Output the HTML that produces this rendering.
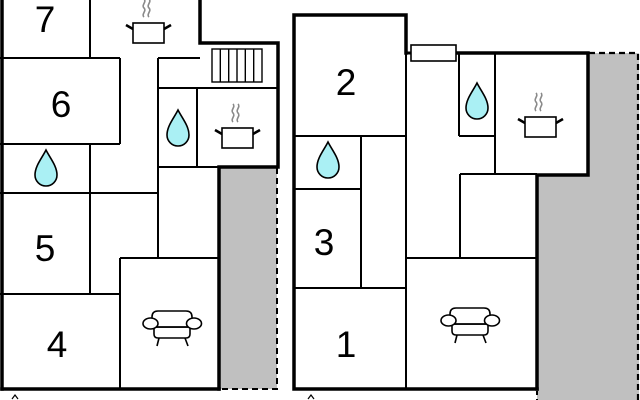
<!DOCTYPE html>
<html>
<head>
<meta charset="utf-8">
<style>
html,body{margin:0;padding:0;background:#fff;}
svg{display:block;}
text{font-family:"Liberation Sans",Arial,sans-serif;font-size:37px;fill:#000;}
</style>
</head>
<body>
<svg width="640" height="400" viewBox="0 0 640 400" xmlns="http://www.w3.org/2000/svg">
<defs>
  <g id="drop">
    <path d="M0,-18 C4,-10 11,-2 11,7 A11,11 0 0 1 -11,7 C-11,-2 -4,-10 0,-18 Z" fill="#aaf0f4" stroke="#000" stroke-width="1.6"/>
  </g>
  <g id="pot">
    <path d="M11,-6 c-3,-3 3,-6 0,-9 c-3,-3 3,-6 0,-9" fill="none" stroke="#8a8a8a" stroke-width="1.6"/>
    <path d="M16,-6 c-3,-3 3,-6 0,-9 c-3,-3 3,-6 0,-9" fill="none" stroke="#8a8a8a" stroke-width="1.6"/>
    <line x1="0" y1="6" x2="-7" y2="2" stroke="#000" stroke-width="2.6"/>
    <line x1="31" y1="6" x2="38" y2="2" stroke="#000" stroke-width="2.6"/>
    <rect x="0" y="0" width="31" height="20" fill="#fff" stroke="#000" stroke-width="1.6"/>
  </g>
  <g id="sofa" fill="#fff" stroke="#000" stroke-width="1.6">
    <line x1="159" y1="338" x2="157" y2="346"/>
    <line x1="185" y1="338" x2="188" y2="346"/>
    <path d="M154,327 L190,327 L190,334 Q190,338 186,338 L158,338 Q154,338 154,334 Z"/>
    <path d="M152,327 L152,317 Q152,311 158,311 L186,311 Q192,311 192,317 L192,327 Z"/>
    <line x1="152" y1="327" x2="192" y2="327"/>
    <ellipse cx="150.5" cy="323.5" rx="7.5" ry="5.5"/>
    <ellipse cx="194" cy="323.5" rx="7.5" ry="5.5"/>
  </g>
</defs>

<!-- ================= LEFT PLAN ================= -->
<!-- grey area -->
<rect x="220" y="168" width="57" height="221" fill="#c0c0c0"/>
<path d="M277,168 L277,389 L220,389" fill="none" stroke="#000" stroke-width="2" stroke-dasharray="6,4"/>

<!-- thin inner walls -->
<g stroke="#000" stroke-width="2" fill="none">
  <line x1="90" y1="0" x2="90" y2="58"/>
  <line x1="0" y1="58" x2="120" y2="58"/>
  <line x1="120" y1="58" x2="120" y2="144"/>
  <line x1="0" y1="144" x2="120" y2="144"/>
  <line x1="90" y1="144" x2="90" y2="294"/>
  <line x1="0" y1="193" x2="158" y2="193"/>
  <line x1="0" y1="294" x2="120" y2="294"/>
  <line x1="120" y1="258" x2="120" y2="389"/>
  <line x1="120" y1="258" x2="219" y2="258"/>
  <line x1="158" y1="58" x2="158" y2="258"/>
  <line x1="158" y1="58" x2="200" y2="58"/>
  <line x1="158" y1="88" x2="278" y2="88"/>
  <line x1="197" y1="88" x2="197" y2="167"/>
  <line x1="158" y1="167" x2="219" y2="167"/>
</g>

<!-- stairs -->
<g stroke="#000" stroke-width="1.4" fill="#fff">
  <rect x="212" y="49" width="50" height="33"/>
  <line x1="220.3" y1="49" x2="220.3" y2="82"/>
  <line x1="228.7" y1="49" x2="228.7" y2="82"/>
  <line x1="237" y1="49" x2="237" y2="82"/>
  <line x1="245.3" y1="49" x2="245.3" y2="82"/>
  <line x1="253.7" y1="49" x2="253.7" y2="82"/>
</g>

<!-- thick outer walls -->
<g stroke="#000" stroke-width="3.5" fill="none" stroke-linecap="square" stroke-linejoin="miter">
  <line x1="2" y1="0" x2="2" y2="389"/>
  <line x1="2" y1="389" x2="219" y2="389"/>
  <path d="M200,0 L200,43 L278,43 L278,167 L219,167 L219,389"/>
</g>

<!-- icons left -->
<use href="#pot" x="133" y="23"/>
<use href="#pot" x="222" y="128"/>
<use href="#drop" x="46" y="168"/>
<use href="#drop" x="178" y="128"/>
<use href="#sofa"/>

<!-- numbers left -->
<text x="45" y="32" text-anchor="middle">7</text>
<text x="61" y="117" text-anchor="middle">6</text>
<text x="45" y="261" text-anchor="middle">5</text>
<text x="57" y="357" text-anchor="middle">4</text>

<!-- bottom marker -->
<path d="M12,399 L15,395 L18,399" fill="none" stroke="#000" stroke-width="1.2"/>

<!-- ================= RIGHT PLAN ================= -->
<!-- grey areas -->
<rect x="537" y="175" width="102" height="225" fill="#c0c0c0"/>
<rect x="588" y="53" width="51" height="122" fill="#c0c0c0"/>
<path d="M589,53 L638,53 L638,400" fill="none" stroke="#000" stroke-width="2.2" stroke-dasharray="6,4"/>

<!-- thin inner walls -->
<g stroke="#000" stroke-width="2" fill="none">
  <line x1="294" y1="136" x2="406" y2="136"/>
  <line x1="406" y1="53" x2="406" y2="389"/>
  <line x1="361" y1="136" x2="361" y2="288"/>
  <line x1="294" y1="189" x2="361" y2="189"/>
  <line x1="294" y1="288" x2="406" y2="288"/>
  <line x1="459" y1="53" x2="459" y2="136"/>
  <line x1="459" y1="136" x2="495" y2="136"/>
  <line x1="495" y1="53" x2="495" y2="174"/>
  <line x1="460" y1="174" x2="537" y2="174"/>
  <line x1="460" y1="174" x2="460" y2="258"/>
  <line x1="406" y1="258" x2="537" y2="258"/>
</g>

<!-- thick outer walls -->
<g stroke="#000" stroke-width="3.5" fill="none" stroke-linecap="square" stroke-linejoin="miter">
  <path d="M406,53 L406,15 L294,15 L294,389 L537,389"/>
  <path d="M456,53 L588,53 L588,175 L537,175 L537,389"/>
</g>
<line x1="537" y1="391" x2="537" y2="400" stroke="#000" stroke-width="2" stroke-dasharray="4,4"/>

<!-- window -->
<rect x="411" y="45" width="45" height="16" fill="#fff" stroke="#000" stroke-width="1.6"/>
<line x1="406" y1="53" x2="411" y2="53" stroke="#000" stroke-width="3"/>

<!-- icons right -->
<use href="#pot" x="525" y="117"/>
<use href="#drop" x="328" y="160"/>
<use href="#drop" x="477" y="101"/>
<use href="#sofa" transform="translate(298,-3)"/>

<!-- numbers right -->
<text x="346" y="95" text-anchor="middle">2</text>
<text x="324" y="255" text-anchor="middle">3</text>
<text x="346" y="357" text-anchor="middle">1</text>

<path d="M308,399 L311,395 L314,399" fill="none" stroke="#000" stroke-width="1.2"/>
</svg>
</body>
</html>
